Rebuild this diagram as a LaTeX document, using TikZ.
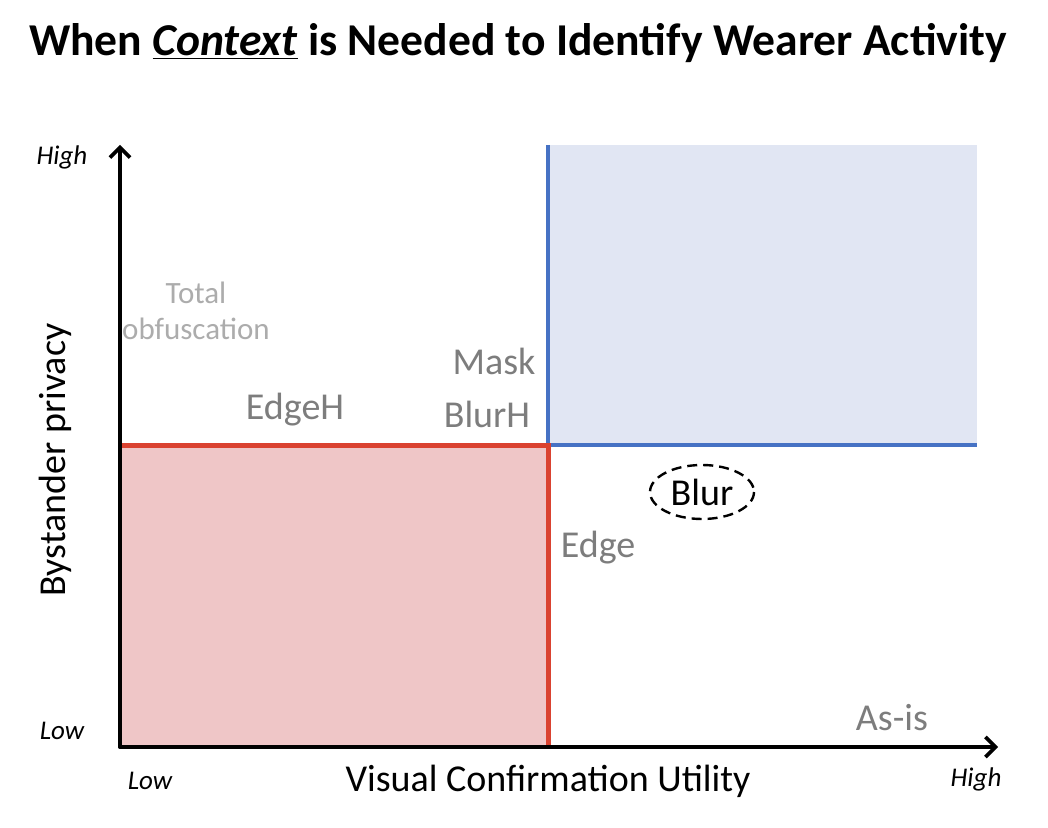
\documentclass[tikz,border=0pt]{standalone}
\usepackage{fontspec}
\setmainfont{Carlito}
\usetikzlibrary{arrows.meta}
\definecolor{redline}{RGB}{218,66,48}
\definecolor{redfill}{RGB}{239,198,199}
\definecolor{blueline}{RGB}{70,114,196}
\definecolor{bluefill}{RGB}{225,230,243}
\definecolor{labelgray}{RGB}{125,125,125}
\definecolor{lightgray}{RGB}{172,172,172}
\tikzset{
    method/.style={text=labelgray, font=\fontsize{19}{21}\selectfont, inner sep=1pt},
    axislabel/.style={font=\fontsize{19}{21}\selectfont},
    endlabel/.style={font=\fontsize{13.5}{15}\selectfont\itshape},
    axis/.style={-{Straight Barb[length=5pt, width=10pt, line width=1.8pt]}, line width=1.8pt, line cap=round},
}
\begin{document}
\begin{tikzpicture}[x=0.5pt, y=-0.5pt]
    \useasboundingbox (0,0) rectangle (1048,828);
    % Заголовок
    \node (title) at (518,43) {\fontsize{22.8}{26}\selectfont\bfseries When \underline{\textit{Context}} is Needed to Identify Wearer Activity};

    % Опорные точки
    \coordinate (O) at (120,747);
    \coordinate (ytop) at (120,145);
    \coordinate (xend) at (998,747);
    \coordinate (C) at (548,445);
    \coordinate (redleft) at (120,445);
    \coordinate (redbottom) at (548,747);
    \coordinate (bluetop) at (548,145);
    \coordinate (blueright) at (977,445);
    \coordinate (bluecorner) at (977,145);

    % Области
    \fill[redfill] (redleft) rectangle (redbottom);
    \fill[bluefill] (C) rectangle (bluecorner);

    % Границы областей
    \draw[blueline, line width=2pt] (bluetop) -- (C) -- (blueright);
    \draw[redline, line width=2.5pt] (redleft) -- (C) -- (redbottom);

    % Оси
    \draw[axis] (O) -- (ytop);
    \draw[axis] (O) -- (xend);

    % Подписи осей
    \node[endlabel] (yhigh) at (62,157) {High};
    \node[endlabel] (ylow) at (62,731) {Low};
    \node[endlabel] (xlow) at (150,781) {Low};
    \node[endlabel] (xhigh) at (976,779) {High};
    \node[axislabel] (xname) at (548,781) {Visual Confirmation Utility};
    \node[axislabel, rotate=90] (yname) at (55,460) {Bystander privacy};

    % Методы
    \node[text=lightgray, font=\fontsize{15.5}{18}\selectfont, align=center] (total) at (196,311) {Total\\obfuscation};
    \node[method] (mask) at (494,361) {Mask};
    \node[method] (blurh) at (487,414) {BlurH};
    \node[method] (edgeh) at (295,410) {EdgeH};
    \node[method] (edge) at (598,548) {Edge};
    \node[method] (asis) at (892,718) {As-is};
    \node[font=\fontsize{19}{21}\selectfont] (blur) at (702,492) {Blur};
    \draw[dashed, line width=1.2pt, dash pattern=on 5pt off 3pt] (blur) ellipse [x radius=52, y radius=27];
\end{tikzpicture}
\end{document}
